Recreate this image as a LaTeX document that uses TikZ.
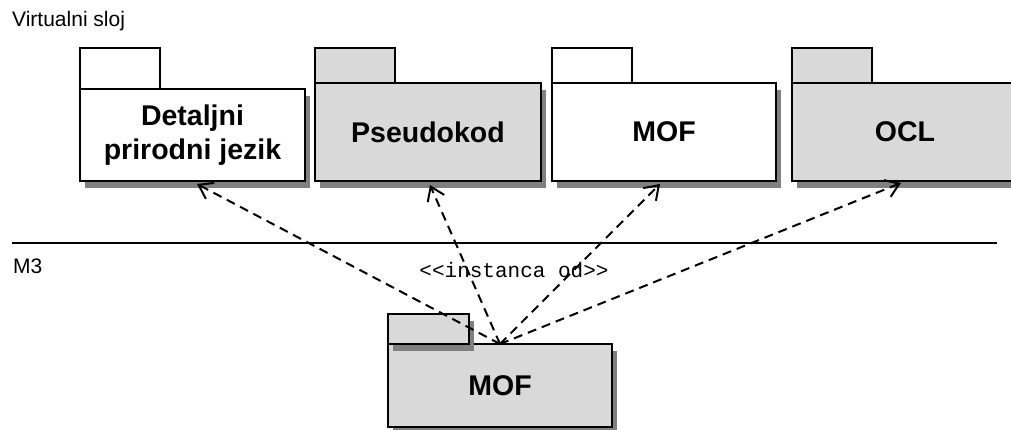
\documentclass[tikz,border=0pt]{standalone}
\usepackage{fontspec}
\setmainfont{Liberation Sans}
\newfontfamily\monof{Liberation Mono}
\usetikzlibrary{arrows.meta,shadows}
\definecolor{pkggray}{RGB}{217,217,217}
\definecolor{shadowgray}{RGB}{128,128,128}
\tikzset{
  pkg/.style={draw=black, line width=2.2pt, outer sep=0pt, inner sep=0pt,
    font=\fontsize{28.5}{34}\selectfont\bfseries, align=center},
  pkgshadow/.style={general shadow={fill=shadowgray, shadow xshift=5pt, shadow yshift=-7pt}},
  pkgtab/.style={draw=black, line width=2.2pt, outer sep=0pt, inner sep=0pt, anchor=south west},
  lbl/.style={font=\fontsize{21}{24}\selectfont, inner sep=0pt, anchor=base west},
  inst/.style={draw=black, line width=2pt, dash pattern=on 9pt off 6pt,
    -{Straight Barb[length=13pt,width=18pt,line width=2pt]}},
}
\begin{document}
\begin{tikzpicture}[x=1pt,y=-1pt]
\useasboundingbox (0,0) rectangle (1011,430);
\node[lbl] (vs) at (12,27) {Virtualni sloj};
\node[lbl] (m3) at (13,273) {M3};
\draw[line width=2.2pt] (12,243) coordinate (la) -- (997,243) coordinate (lb);
% top packages
\node[pkg, pkgshadow, fill=white, minimum width=225pt, minimum height=92pt] (p1) at (192.5,135) {Detaljni\\prirodni jezik};
\node[pkgtab, fill=white, minimum width=80pt, minimum height=41pt] (p1t) at (p1.north west) {};
\node[pkg, pkgshadow, fill=pkggray, minimum width=226pt, minimum height=98pt] (p2) at (428,132) {Pseudokod};
\node[pkgtab, fill=pkggray, minimum width=80pt, minimum height=35pt] (p2t) at (p2.north west) {};
\node[pkg, pkgshadow, fill=white, minimum width=224pt, minimum height=98pt] (p3) at (664,132) {MOF};
\node[pkgtab, fill=white, minimum width=80pt, minimum height=35pt] (p3t) at (p3.north west) {};
\node[pkg, pkgshadow, fill=pkggray, minimum width=226pt, minimum height=98pt] (p4) at (905,132) {OCL};
\node[pkgtab, fill=pkggray, minimum width=80pt, minimum height=35pt] (p4t) at (p4.north west) {};
% bottom package
\node[pkg, pkgshadow, fill=pkggray, minimum width=224pt, minimum height=83pt] (m) at (500,385.5) {MOF};
\node[pkgtab, pkgshadow, fill=pkggray, minimum width=81pt, minimum height=30pt] (mt) at (m.north west) {};
% label
\node[font=\fontsize{21}{24}\selectfont\monof, inner sep=0pt, anchor=base] (lab) at (514,277) {<{}<instanca od>{}>};
% connectors
\coordinate (t1) at (197,184);
\coordinate (t2) at (430,185);
\coordinate (t3) at (660,184);
\coordinate (t4) at (901,183);
\draw[inst] (m.north) -- (t1);
\draw[inst] (m.north) -- (t2);
\draw[inst] (m.north) -- (t3);
\draw[inst] (m.north) -- (t4);
\end{tikzpicture}
\end{document}
